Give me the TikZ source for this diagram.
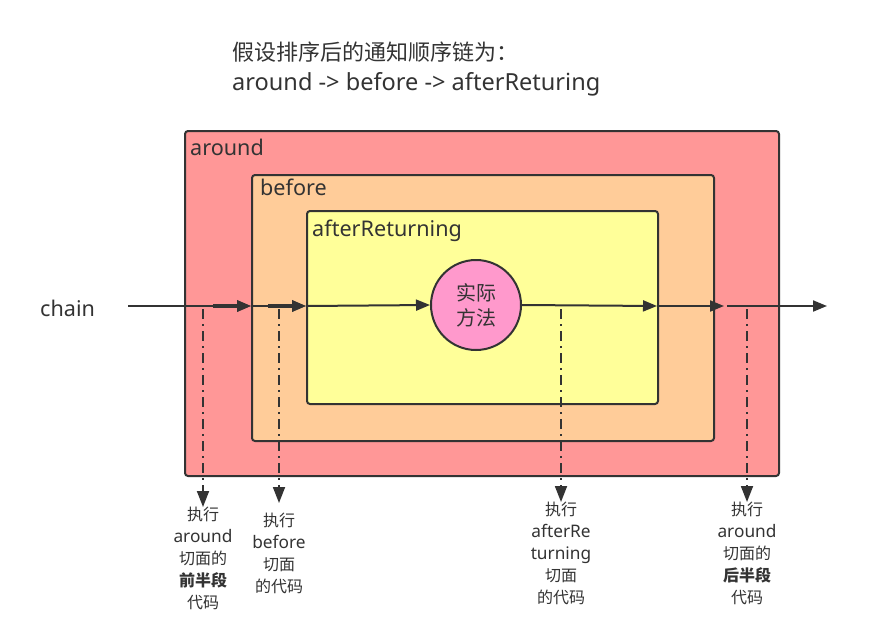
\documentclass[tikz,border=0pt]{standalone}
\usepackage{fontspec}
\setmainfont[Scale=1.08]{Noto Sans}
\newfontfamily\cjk{Noto Sans CJK SC}
\usetikzlibrary{arrows.meta}
\definecolor{linec}{HTML}{333333}
\definecolor{aroundc}{HTML}{FF9797}
\definecolor{beforec}{HTML}{FFCC99}
\definecolor{afterc}{HTML}{FFFF99}
\definecolor{methodc}{HTML}{FF99CC}
\definecolor{textc}{HTML}{333333}
\tikzset{
  layer/.style={draw=linec, line width=2pt, rounded corners=3pt, anchor=north west, inner sep=0pt},
  boxlbl/.style={anchor=north west, inner sep=0pt, text=textc, font=\fontsize{20}{24}\selectfont},
  flow/.style={draw=linec, line width=2pt, -{Triangle[length=14pt,width=11pt]}},
  thickflow/.style={draw=linec, line width=3.2pt, -{Triangle[length=14pt,width=11pt]}},
  ddot/.style={draw=linec, line width=1.8pt, dash pattern=on 10pt off 5pt on 2pt off 5pt, -{Triangle[length=16pt,width=12pt]}},
  lbl/.style={anchor=north, inner sep=0pt, align=center, text=textc, font=\fontsize{16}{22}\selectfont},
}
\begin{document}
\begin{tikzpicture}[x=1pt,y=-1pt]
\useasboundingbox (0,0) rectangle (877,637);
% title
\node (ttl) [anchor=north west, inner sep=0pt, align=left, text=textc, font=\fontsize{21.8}{30}\selectfont] at (232,42) {{\cjk\fontsize{22}{30}\selectfont 假设排序后的通知顺序链为：}\\around -> before -> afterReturing};
% nested boxes
\node (around) [layer, fill=aroundc, minimum width=594pt, minimum height=345pt] at (184,130) {};
\node (before) [layer, fill=beforec, minimum width=462pt, minimum height=266pt] at (251,174) {};
\node (after) [layer, fill=afterc, minimum width=351pt, minimum height=193pt] at (306,210) {};
\node (aroundl) [boxlbl] at (190,139) {around};
\node (beforel) [boxlbl] at (260,179) {before};
\node (afterl) [boxlbl] at (312,220) {afterReturning};
% method circle
\node (method) [circle, draw=linec, line width=2pt, fill=methodc, minimum size=90pt, inner sep=0pt, align=center, text=textc, font=\cjk\fontsize{20}{25}\selectfont] at (476,305) {实际\\方法};
% chain
\node (chain) [anchor=west, inner sep=0pt, text=textc, font=\fontsize{20}{24}\selectfont] at (40,308) {chain};
\coordinate (p0) at (128,306);
\coordinate (a1) at (213,306);
\coordinate (p1) at (251,306);
\coordinate (b1) at (268,306);
\coordinate (p2) at (306,306);
\coordinate (p3) at (657,306);
\coordinate (p4) at (724,306);
\coordinate (p5) at (727,306);
\coordinate (p6) at (827,306);
\draw[flow] (p0) -- (p1);
\draw[thickflow] (a1) -- (p1);
\draw[flow] (p1) -- (p2);
\draw[thickflow] (b1) -- (p2);
\draw[flow] (p2) -- (method.west);
\draw[flow] (method.east) -- (p3);
\draw[flow] (p3) -- (p4);
\draw[flow] (p5) -- (p6);
% labels below
\node (l1) [lbl] at (203,507) {{\cjk 执行}\\around\\{\cjk 切面的}\\{\cjk\bfseries 前半段}\\{\cjk 代码}};
\node (l2) [lbl] at (279,513) {{\cjk 执行}\\before\\{\cjk 切面}\\{\cjk 的代码}};
\node (l3) [lbl] at (561,502) {{\cjk 执行}\\afterRe\\turning\\{\cjk 切面}\\{\cjk 的代码}};
\node (l4) [lbl] at (747,502) {{\cjk 执行}\\around\\{\cjk 切面的}\\{\cjk\bfseries 后半段}\\{\cjk 代码}};
\coordinate (d1) at (203,309);
\coordinate (d2) at (279,309);
\coordinate (d3) at (561,309);
\coordinate (d4) at (747,309);
\draw[ddot] (d1) -- (l1.north);
\draw[ddot] (d2) -- ([yshift=10pt]l2.north);
\draw[ddot] (d3) -- (l3.north);
\draw[ddot] (d4) -- (l4.north);
\end{tikzpicture}
\end{document}
